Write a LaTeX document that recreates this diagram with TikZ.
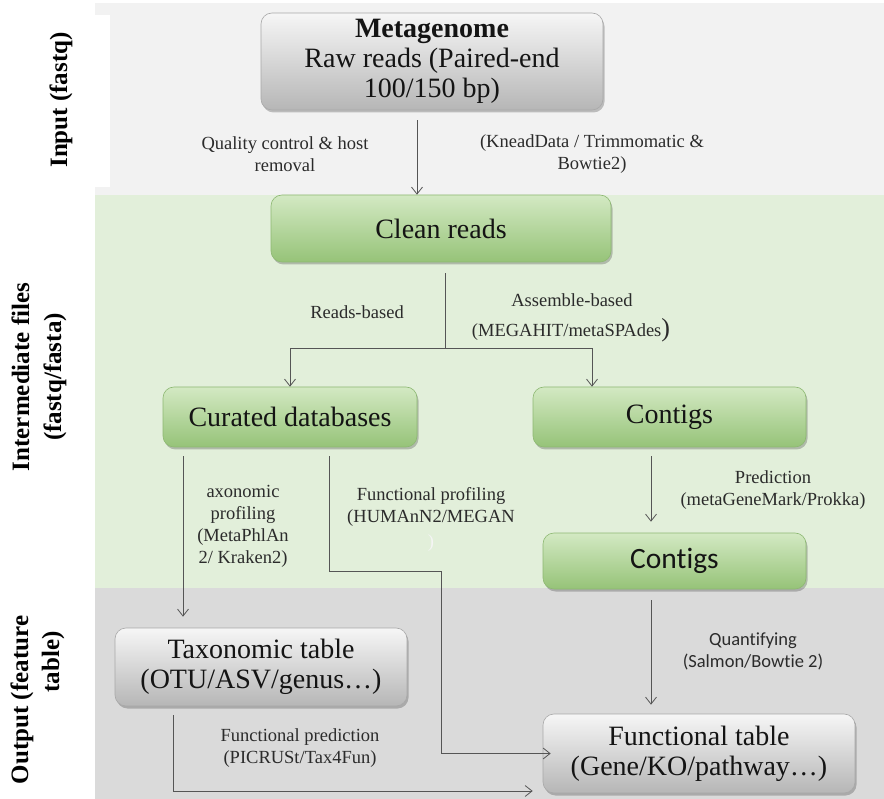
\documentclass[tikz,border=0pt]{standalone}
\usepackage{fontspec}
\setmainfont{Liberation Serif}
\newfontfamily\calfont[Ligatures=NoCommon]{Carlito}
\usetikzlibrary{arrows.meta,shadows}

\definecolor{bandin}{HTML}{F2F2F2}
\definecolor{bandmid}{HTML}{E2EFDA}
\definecolor{bandout}{HTML}{DADADA}
\definecolor{linec}{HTML}{555555}
\definecolor{notec}{HTML}{2B2B2B}
\definecolor{boxtxt}{HTML}{141414}
\definecolor{gtop}{HTML}{D3E9C3}
\definecolor{gmid}{HTML}{ABD391}
\definecolor{gbot}{HTML}{96C378}
\definecolor{gedge}{HTML}{8DB872}
\definecolor{ktop}{HTML}{F6F6F6}
\definecolor{kmid}{HTML}{D2D2D2}
\definecolor{kbot}{HTML}{B6B6B6}
\definecolor{kedge}{HTML}{A8A8A8}

\newcommand{\boxfont}{\fontsize{28}{30}\selectfont}
\newcommand{\notefont}{\fontsize{18.5}{22}\selectfont}
\newcommand{\sidefont}{\fontsize{25}{32}\selectfont\bfseries}

\tikzset{
  stagebox/.style={rounded corners=11pt, align=center, inner sep=2pt,
    text=boxtxt, font=\boxfont,
    drop shadow={shadow xshift=1.5pt, shadow yshift=-2.5pt, fill=black, opacity=0.22}},
  greenbox/.style={stagebox, draw=gedge, line width=0.6pt,
    top color=gtop, middle color=gmid, bottom color=gbot},
  graybox/.style={stagebox, draw=kedge, line width=0.6pt,
    top color=ktop, middle color=kmid, bottom color=kbot},
  note/.style={align=center, text=notec, font=\notefont, inner sep=0pt},
  sidelabel/.style={rotate=90, align=center, font=\sidefont, text=black, inner sep=0pt},
  link/.style={draw=linec, line width=0.9pt},
  arr/.style={link, -{Straight Barb[length=7pt,width=11pt,line width=0.8pt]}},
}

\begin{document}
\begin{tikzpicture}[x=1pt,y=-1pt]
\useasboundingbox (0,0) rectangle (884,799);
\fill[white] (0,0) rectangle (884,799);

% stage bands
\fill[bandin]  (95,3)   rectangle (884,195);
\fill[white]   (0,15)   rectangle (110,187);
\fill[bandmid] (95,195) rectangle (884,588);
\fill[bandout] (95,588) rectangle (884,799);

% stage labels
\node[sidelabel] (lblin) at (61,100) {Input (fastq)};
\node[sidelabel] (lblmid) at (39,377) {Intermediate files\\(fastq/fasta)};
\node[sidelabel] (lblouta) at (22,700) {Output (feature};
\node[sidelabel] (lbloutb) at (53,662) {table)};

% boxes
\node[graybox, minimum width=342pt, minimum height=97pt] (meta) at (432,61.5)
  {\textbf{Metagenome}\\Raw reads (Paired-end\\100/150 bp)};
\node[greenbox, minimum width=340pt, minimum height=67pt] (clean) at (441,228.5) {Clean reads};
\node[greenbox, minimum width=254pt, minimum height=60pt] (cur) at (290,417) {Curated databases};
\node[greenbox, minimum width=273pt, minimum height=60pt] (con1) at (669.5,417) {Contigs};
\node[greenbox, minimum width=263pt, minimum height=56pt, font=\calfont\fontsize{29.5}{32}\selectfont] (con2) at (674.5,561) {Contigs};
\node[graybox, minimum width=292pt, minimum height=78pt] (tax) at (261,667)
  {Taxonomic table\\(OTU/ASV/genus\ldots)};
\node[graybox, minimum width=312pt, minimum height=79pt] (fun) at (699,753.5)
  {Functional table\\(Gene/KO/pathway\ldots)};

% notes on the connectors
\node[note] (qc) at (285,154) {Quality control \& host\\removal};
\node[note] (kd) at (592,154) {(KneadData / Trimmomatic \&\\Bowtie2)};
\node[note] (rb) at (357,312) {Reads-based};
\node[note] (ab) at (572,300) {Assemble-based};
\node[note] (abtool) at (571,330) {(MEGAHIT/metaSPAdes{\fontsize{26}{26}\selectfont)}};
\node[note] (tx) at (243,526.5) {axonomic\\profiling\\(MetaPhlAn\\2/ Kraken2)};
\node[note] (fp) at (431,507) {Functional profiling\\(HUMAnN2/MEGAN};
\node[note, text=white!92!gray] (fpclose) at (431,543) {)};
\node[note] (pred) at (773,490) {Prediction\\(metaGeneMark/Prokka)};
\node[note, font=\calfont\fontsize{18.5}{22}\selectfont] (quant) at (753,651) {Quantifying\\(Salmon/Bowtie 2)};
\node[note] (fpred) at (300,748) {Functional prediction\\(PICRUSt/Tax4Fun)};

% connectors
\draw[arr, shorten <=10pt] ([xshift=-15pt]meta.south) -- ([xshift=-24pt]clean.north);
\coordinate (split) at (445,348);
\draw[link, shorten <=11pt] ([xshift=4pt]clean.south) -- (split);
\draw[arr] (split) -| (cur.north);
\draw[arr] (split) -| ([xshift=-77.5pt]con1.north);
\draw[arr, shorten <=9pt, shorten >=11pt] ([xshift=-107pt]cur.south) -- ([xshift=-78pt]tax.north);
\draw[arr, shorten <=9pt] ([xshift=39pt]cur.south) -- ++(0,124) -- ++(112,0) |- ([xshift=8pt]fun.west);
\draw[arr, shorten <=9pt, shorten >=11pt] ([xshift=-18.5pt]con1.south) -- ([xshift=-23.5pt]con2.north);
\draw[arr, shorten <=11pt, shorten >=9pt] ([xshift=-23.5pt]con2.south) -- ([xshift=-48pt]fun.north);
\draw[arr, shorten <=9pt] ([xshift=-88pt]tax.south) |- ([xshift=-10pt,yshift=-37.5pt]fun.west);
\end{tikzpicture}
\end{document}
